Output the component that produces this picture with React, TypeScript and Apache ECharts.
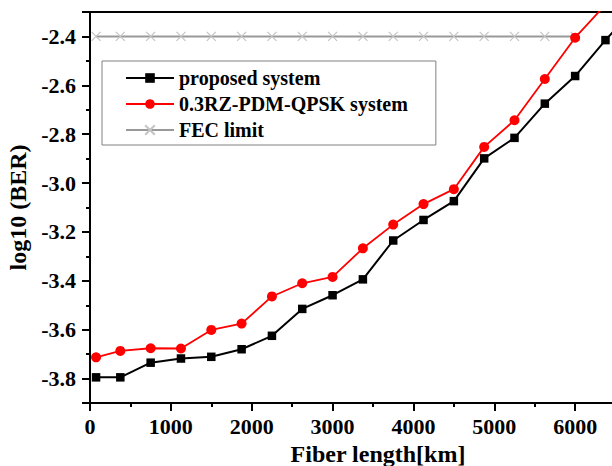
import React, { useEffect, useRef } from "react";
import * as echarts from "echarts";

const lengthKm = [75, 375, 750, 1125, 1500, 1875, 2250, 2625, 3000, 3375, 3750, 4125, 4500, 4875, 5250, 5625, 6000, 6375, 6750];
const proposedSystem = [-3.795, -3.795, -3.735, -3.718, -3.711, -3.68, -3.625, -3.515, -3.459, -3.394, -3.235, -3.151, -3.074, -2.899, -2.815, -2.675, -2.562, -2.415, -2.28];
const rzPdmQpsk = [-3.713, -3.687, -3.676, -3.677, -3.601, -3.575, -3.464, -3.41, -3.384, -3.267, -3.17, -3.086, -3.025, -2.852, -2.743, -2.574, -2.405, -2.27];
const fecLimit = [-2.4, -2.4, -2.4, -2.4, -2.4, -2.4, -2.4, -2.4, -2.4, -2.4, -2.4, -2.4, -2.4, -2.4, -2.4, -2.4, -2.4];
const xTickLabels = ["0", "1000", "2000", "3000", "4000", "5000", "6000"];

const seriesNames = ["proposed system", "0.3RZ-PDM-QPSK system", "FEC limit"];

const FONT = "Liberation Serif";

function pairs(ys: number[]) {
  return ys.map((y, i) => [lengthKm[i], y]);
}

export default function App() {
  const ref = useRef<HTMLDivElement>(null);
  useEffect(() => {
    if (!ref.current) return;
    const chart = echarts.init(ref.current, null, { renderer: "svg" });
    const axisLine = { lineStyle: { color: "#000", width: 2 } };
    chart.setOption({
      animation: false,
      backgroundColor: "#fff",
      grid: { left: 90, width: 566, top: 12, height: 391, outerBoundsMode: "none", containLabel: false },
      legend: {
        left: 102,
        top: 61,
        orient: "vertical",
        itemWidth: 48,
        itemHeight: 12,
        itemGap: 6,
        padding: [7, 28, 5, 23],
        borderColor: "#808080",
        borderWidth: 1,
        textStyle: { fontFamily: FONT, fontWeight: "bold", fontSize: 20, color: "#000" },
        data: seriesNames,
      },
      xAxis: [
        {
          type: "value",
          min: 0,
          max: 7000,
          interval: 1000,
          name: "Fiber length[km]",
          nameLocation: "middle",
          nameGap: 36,
          nameTextStyle: { fontFamily: FONT, fontWeight: "bold", fontSize: 24, color: "#000", padding: [0, 0, 0, 10] },
          axisLine,
          axisTick: { inside: false, length: 8, lineStyle: { color: "#000", width: 2 } },
          minorTick: { show: true, splitNumber: 2, length: 4, lineStyle: { color: "#000", width: 2 } },
          axisLabel: {
            fontFamily: FONT,
            fontWeight: "bold",
            fontSize: 22,
            color: "#000",
            margin: 12,
            showMaxLabel: false,
            formatter: (v: number) => (xTickLabels.includes(String(v)) ? String(v) : ""),
          },
          splitLine: { show: false },
        },
        {
          type: "value",
          position: "top",
          min: 0,
          max: 7000,
          axisLine,
          axisTick: { show: false },
          axisLabel: { show: false },
          splitLine: { show: false },
        },
      ],
      yAxis: {
        type: "value",
        min: -3.9,
        max: -2.3,
        splitNumber: 8,
        name: "log10 (BER)",
        nameLocation: "middle",
        nameRotate: 90,
        nameGap: 56,
        nameTextStyle: { fontFamily: FONT, fontWeight: "bold", fontSize: 24, color: "#000" },
        axisLine,
        axisTick: { inside: false, length: 8, lineStyle: { color: "#000", width: 2 } },
        minorTick: { show: true, splitNumber: 2, length: 4, lineStyle: { color: "#000", width: 2 } },
        axisLabel: {
          fontFamily: FONT,
          fontWeight: "bold",
          fontSize: 22,
          color: "#000",
          margin: 14,
          formatter: (v: number) => (Math.abs(Math.round(v * 10)) % 2 === 0 ? v.toFixed(1) : ""),
        },
        splitLine: { show: false },
      },
      series: [
        {
          name: seriesNames[2],
          type: "line",
          data: pairs(fecLimit),
          symbol: "path://M0,0L10,10M0,10L10,0",
          symbolSize: 9,
          lineStyle: { color: "#999999", width: 2 },
          itemStyle: { color: "transparent", borderColor: "#c4c4c4", borderWidth: 1.2 },
          z: 1,
        },
        {
          name: seriesNames[0],
          type: "line",
          data: pairs(proposedSystem),
          symbol: "rect",
          symbolSize: 8.5,
          lineStyle: { color: "#000", width: 2 },
          itemStyle: { color: "#000" },
          z: 3,
        },
        {
          name: seriesNames[1],
          type: "line",
          data: pairs(rzPdmQpsk),
          symbol: "circle",
          symbolSize: 10,
          lineStyle: { color: "#ff0000", width: 1.8 },
          itemStyle: { color: "#ff0000" },
          z: 4,
        },
      ],
    });
    return () => chart.dispose();
  }, []);
  return <div ref={ref} style={{ width: 612, height: 466, position: "absolute", left: 0, top: 0 }} />;
}
